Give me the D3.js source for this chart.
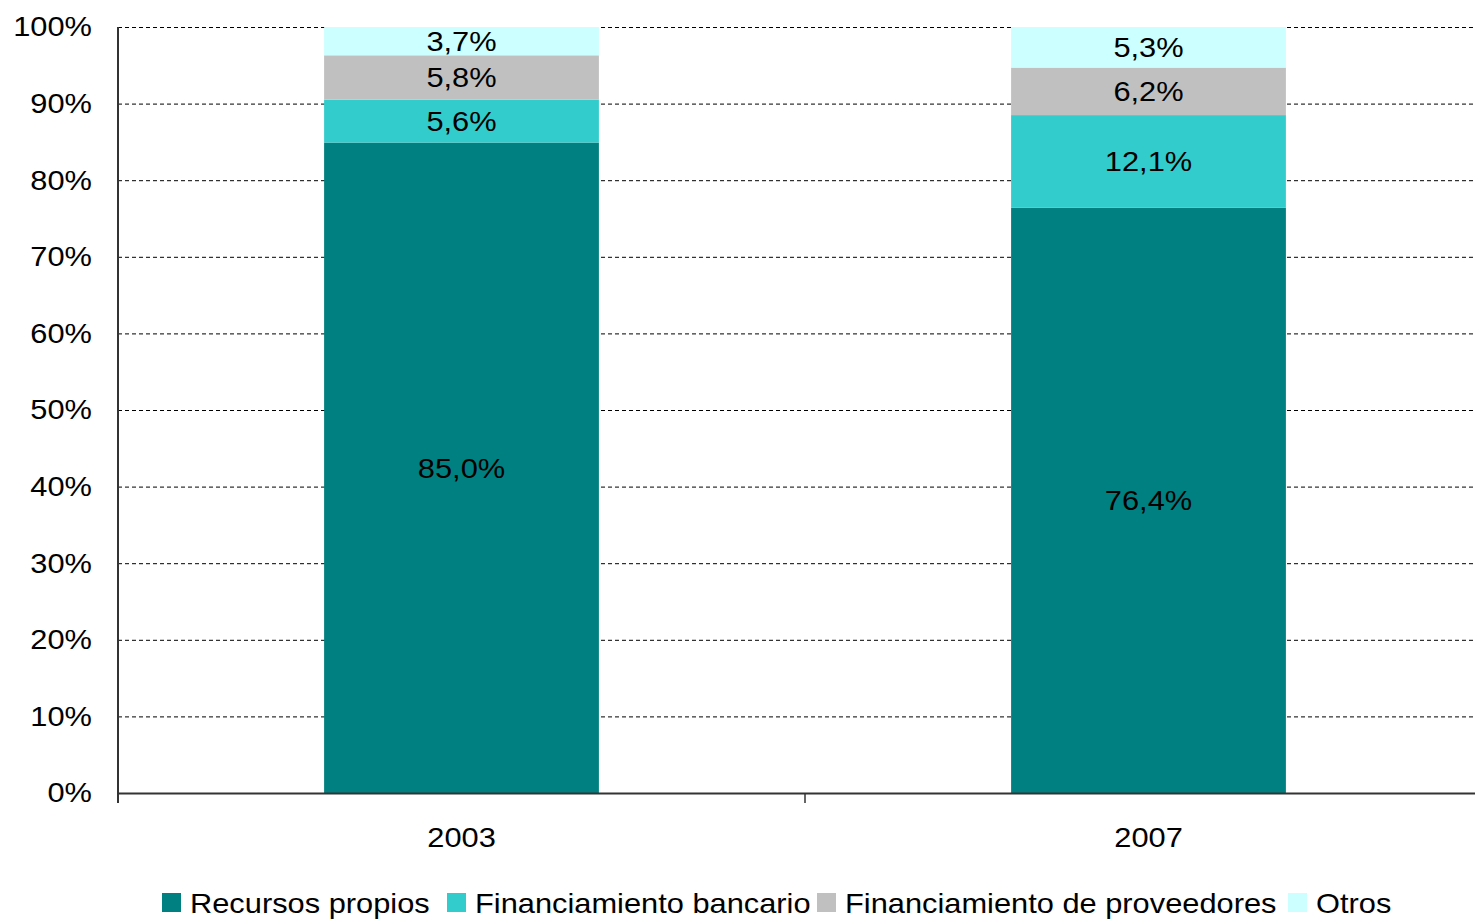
<!DOCTYPE html>
<html>
<head>
<meta charset="utf-8">
<script src="https://cdn.jsdelivr.net/npm/d3@7"></script>
<style>
  body { margin: 0; background: #fff; }
  text { font-family: "Liberation Sans", Arial, sans-serif; fill: #000; }
</style>
</head>
<body>
<div id="chart"></div>
<script>
// data
const years = ["2003", "2007"];
const series = ["Recursos propios", "Financiamiento bancario", "Financiamiento de proveedores", "Otros"];
const recursosPropios = [85.0, 76.4];
const financBancario = [5.6, 12.1];
const financProveedores = [5.8, 6.2];
const otros = [3.7, 5.3];
const yTicks = [0, 0.1, 0.2, 0.3, 0.4, 0.5, 0.6, 0.7, 0.8, 0.9, 1];
const colors = ["#008080", "#33CCCC", "#C0C0C0", "#CCFFFF"];

const width = 1475, height = 919;
const margin = {top: 27, right: -17, bottom: 126, left: 118};

let rows = years.map((y, i) => ({
    year: y,
    "Recursos propios": recursosPropios[i],
    "Financiamiento bancario": financBancario[i],
    "Financiamiento de proveedores": financProveedores[i],
    "Otros": otros[i]
}));

let svg = d3.select("#chart").append("svg")
    .attr("width", width)
    .attr("height", height);

let x = d3.scaleBand()
    .domain(years)
    .range([margin.left, width - margin.right])
    .paddingInner(0)
    .paddingOuter(0);

let y = d3.scaleLinear()
    .domain([0, 1])
    .range([height - margin.bottom, margin.top]);

let color = d3.scaleOrdinal().domain(series).range(colors);

let stacked = d3.stack()
    .keys(series)
    .offset(d3.stackOffsetExpand)(rows);

// grid lines
svg.append("g")
    .selectAll("line")
    .data(yTicks.slice(1))
    .enter().append("line")
    .attr("x1", margin.left)
    .attr("x2", width)
    .attr("y1", d => y(d) + 0.5)
    .attr("y2", d => y(d) + 0.5)
    .attr("stroke", "#000")
    .attr("stroke-width", 1)
    .attr("stroke-dasharray", "4,3");

// bars
let barW = x.bandwidth() * 0.4;
let layers = svg.append("g")
    .selectAll("g")
    .data(stacked)
    .enter().append("g")
    .attr("fill", d => color(d.key));

layers.selectAll("rect")
    .data(d => d)
    .enter().append("rect")
    .attr("x", d => x(d.data.year) + (x.bandwidth() - barW) / 2)
    .attr("y", d => y(d[1]))
    .attr("width", barW)
    .attr("height", d => y(d[0]) - y(d[1]));

// value labels
layers.each(function(layer) {
    d3.select(this).selectAll("text")
        .data(layer)
        .enter().append("text")
        .attr("x", d => x(d.data.year) + x.bandwidth() / 2)
        .attr("y", d => (y(d[0]) + y(d[1])) / 2)
        .attr("dy", "0.35em")
        .attr("text-anchor", "middle")
        .style("font-size", "28px")
        .text(d => d3.format(".1f")(d.data[layer.key]).replace(".", ",") + "%");
});

// y axis
let yAxis = svg.append("g")
    .attr("transform", "translate(" + margin.left + ",0)")
    .call(d3.axisLeft(y).tickValues(yTicks).tickSize(0).tickPadding(26)
        .tickFormat(d => Math.round(d * 100) + "%"));
yAxis.select(".domain").attr("stroke", "#333").attr("stroke-width", 2)
    .attr("d", "M0," + (height - margin.bottom + 10) + "V" + margin.top);
yAxis.selectAll("text").style("font-size", "28px").attr("fill", "#000");

// x axis
let xAxis = svg.append("g")
    .attr("transform", "translate(0," + (height - margin.bottom) + ")")
    .call(d3.axisBottom(x).tickSize(0).tickPadding(34));
xAxis.select(".domain").attr("stroke", "#333").attr("stroke-width", 2);
xAxis.selectAll("text").style("font-size", "28px").attr("fill", "#000");
xAxis.append("g")
    .selectAll("line")
    .data(years.slice(1))
    .enter().append("line")
    .attr("x1", d => x(d))
    .attr("x2", d => x(d))
    .attr("y1", 0)
    .attr("y2", 10)
    .attr("stroke", "#333")
    .attr("stroke-width", 1.5);

// legend
let legendX = [162, 447, 817, 1288];
let legend = svg.append("g")
    .selectAll("g")
    .data(series)
    .enter().append("g")
    .attr("transform", (d, i) => "translate(" + legendX[i] + ",893)");

legend.append("rect")
    .attr("width", 19)
    .attr("height", 19)
    .attr("fill", d => color(d));

legend.append("text")
    .attr("x", 28)
    .attr("y", 10)
    .attr("dy", "0.35em")
    .style("font-size", "28px")
    .text(d => d);

// the original font is a bit wider than Liberation Sans, stretch it a little
svg.selectAll("text").each(function() {
    let len = this.getComputedTextLength();
    d3.select(this)
        .attr("textLength", len * 1.1)
        .attr("lengthAdjust", "spacingAndGlyphs");
});
</script>
</body>
</html>
